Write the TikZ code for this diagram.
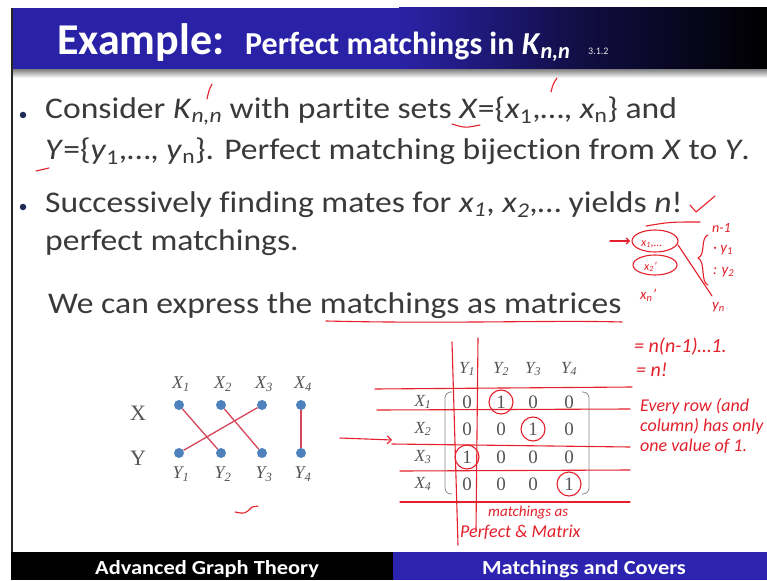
\documentclass[tikz,border=0pt]{standalone}
\usepackage{fontspec}
\setmainfont{Carlito}[Ligatures=NoCommon]
\newfontfamily\bodyfont{Carlito}[FakeStretch=1.12,Ligatures=NoCommon]
\newfontfamily\timesfont{Liberation Serif}
\usetikzlibrary{arrows.meta,positioning,shapes.geometric}
\definecolor{titleblue}{HTML}{2A22A6}
\definecolor{barblue}{HTML}{2C23B0}
\definecolor{textgray}{HTML}{3A3A3A}
\definecolor{bulnavy}{HTML}{1F2A55}
\definecolor{figgray}{HTML}{555555}
\definecolor{dotblue}{HTML}{4F81BD}
\definecolor{edgered}{HTML}{D6455A}
\definecolor{inkred}{HTML}{E3202B}

\tikzset{
  body/.style={anchor=base west,inner sep=0pt,text=textgray,font=\bodyfont\fontsize{30}{36}\selectfont},
  bul/.style={circle,fill=bulnavy,inner sep=0pt,minimum size=6.5pt},
  vtx/.style={circle,fill=dotblue,inner sep=0pt,minimum size=10pt},
  medge/.style={edgered,line width=1.3pt},
  glbl/.style={text=figgray,inner sep=0pt,font=\timesfont\fontsize{18}{20}\selectfont\itshape},
  side/.style={text=figgray,inner sep=0pt,font=\timesfont\fontsize{22}{24}\selectfont},
  entry/.style={text=figgray,inner sep=0pt,font=\timesfont\fontsize{19}{20}\selectfont},
  ink/.style={draw=inkred,line width=1.1pt,line cap=round,line join=round},
  scrawl/.style={text=inkred,inner sep=0pt,anchor=base west,font=\fontsize{18}{20}\selectfont\itshape},
  foot/.style={inner sep=0pt,text=white,font=\bodyfont\fontsize{20}{24}\selectfont\bfseries}
}

\begin{document}
\begin{tikzpicture}[x=1pt,y=-1pt]
\useasboundingbox (0,0) rectangle (767,580);
\fill[white] (0,0) rectangle (767,580);

% title bar
\fill[titleblue] (11,8) rectangle (400,70);
\shade[left color=titleblue,right color=black,middle color=titleblue!40!black] (399,8) rectangle (767,70);
\shade[top color=black!45,bottom color=white] (11,70) rectangle (767,78);
\draw[black!85,line width=2pt] (12,8) -- (12,552);
\node[anchor=base west,inner sep=0pt,text=white,font=\fontsize{44}{50}\selectfont\bfseries] (ttl) at (57,55) {Example:};
\node[anchor=base west,inner sep=0pt,text=white,font=\fontsize{32}{36}\selectfont\bfseries] (ttl2) at (245,55)
  {Perfect matchings in \textit{K}\textsubscript{\textit{n,n}}};
\node[anchor=base west,inner sep=0pt,text=white!80!gray,font=\fontsize{10}{12}\selectfont] (sec) at (588,55) {3.1.2};

% bullets
\node[bul] (b1) at (23,115) {};
\node[body] (l1) at (45,119) {Consider \textit{K}\textsubscript{\textit{n,n}} with partite sets \textit{X}=\{\textit{x}\textsubscript{1},…, \textit{x}\textsubscript{n}\} and};
\node[body] (l2) at (45,160) {\textit{Y}=\{\textit{y}\textsubscript{1},…, \textit{y}\textsubscript{n}\}. Perfect matching bijection from \textit{X} to \textit{Y}.};
\node[bul] (b2) at (23,207) {};
\node[body] (l3) at (45,212) {Successively finding mates for \textit{x}\textsubscript{\textit{1}}, \textit{x}\textsubscript{\textit{2}},… yields \textit{n}!};
\node[body] (l4) at (45,250) {perfect matchings.};
\node[body] (l5) at (48,313) {We can express the matchings as matrices};

% graph
\node[side] (sx) at (138,413) {X};
\node[side] (sy) at (138,458) {Y};
\foreach \i/\xx in {1/179,2/221,3/262,4/301}{
  \node[vtx] (x\i) at (\xx,405) {};
  \node[vtx] (y\i) at (\xx,453) {};
  \node[glbl] (lx\i) at (\xx+2,384) {X\textsubscript{\i}};
  \node[glbl] (ly\i) at (\xx+2,474) {Y\textsubscript{\i}};
}
\draw[medge] (x1) -- (y2);
\draw[medge] (x2) -- (y3);
\draw[medge] (x3) -- (y1);
\draw[medge] (x4) -- (y4);

% matrix
\foreach \c/\xx in {1/467,2/501,3/533,4/569}
  \node[glbl,font=\timesfont\fontsize{17}{20}\selectfont\itshape] (cy\c) at (\xx,369) {Y\textsubscript{\c}};
\foreach \r/\yy/\a/\b/\cc/\d in {1/402/0/1/0/0,2/429/0/0/1/0,3/457/1/0/0/0,4/484/0/0/0/1}{
  \node[glbl,font=\timesfont\fontsize{17}{20}\selectfont\itshape] (rx\r) at (423,\yy) {X\textsubscript{\r}};
  \node[entry] (m\r1) at (467,\yy) {\a};
  \node[entry] (m\r2) at (501,\yy) {\b};
  \node[entry] (m\r3) at (533,\yy) {\cc};
  \node[entry] (m\r4) at (569,\yy) {\d};
}
\draw[figgray!70,line width=0.8pt,rounded corners=6pt] (452,392) -- (445,392) -- (445,494) -- (452,494);
\draw[figgray!70,line width=0.8pt,rounded corners=6pt] (582,392) -- (589,392) -- (589,494) -- (582,494);

% bottom bar
\fill[black] (11,552) rectangle (393,580);
\fill[barblue] (393,552) rectangle (767,580);
\node[foot,anchor=base west] (ft1) at (95,574) {Advanced Graph Theory};
\node[foot,anchor=base] (ft2) at (584,574) {Matchings and Covers};

% handwriting
\draw[ink] (212,84) .. controls (209,90) .. (207,99);
\draw[ink] (557,78) .. controls (553,84) .. (551,92);
\draw[ink] (452,124) .. controls (465,128) .. (480,125);
\draw[ink] (36,171) -- (49,168);
\draw[ink] (690,205) -- (696,212) -- (715,196);
\draw[ink] (326,321) .. controls (450,324) and (550,320) .. (622,322);
\draw[ink] (235,512) .. controls (245,514) .. (252,507) -- (258,506);
% matrix strokes
\draw[ink] (375,389) -- (632,387);
\draw[ink] (377,410) -- (630,409);
\draw[ink,-{Straight Barb[length=4pt]}] (340,438) -- (392,440);
\draw[ink] (392,444) -- (630,447);
\draw[ink] (400,471) -- (630,470);
\draw[ink] (400,502) -- (630,502);
\draw[ink] (452,342) -- (458,545);
\draw[ink] (478,338) -- (476,530);
\draw[ink] (m12) circle[radius=12pt];
\draw[ink] (m23) circle[radius=12pt];
\draw[ink] (m31) circle[radius=12pt];
\draw[ink] (m44) circle[radius=12pt];
\node[scrawl,font=\fontsize{15}{16}\selectfont\itshape] (hw1) at (488,516) {matchings as};
\node[scrawl] (hw2) at (460,537) {Perfect \& Matrix};
% right margin notes
\draw[ink,-{Straight Barb[length=3pt]}] (610,241) -- (630,241);
\draw[ink] (655,241) ellipse[x radius=23pt,y radius=11pt];
\draw[ink] (655,265) ellipse[x radius=22pt,y radius=10pt];
\draw[ink] (646,226) .. controls (670,222) .. (700,222);
\draw[ink] (678,245) -- (712,296);
\node[scrawl,font=\fontsize{12}{12}\selectfont\itshape] (hx1) at (641,246) {x\textsubscript{1},\dots};
\node[scrawl,font=\fontsize{12}{12}\selectfont\itshape] (hx2) at (644,270) {x\textsubscript{2}'};
\node[scrawl,font=\fontsize{15}{16}\selectfont\itshape] (hxn) at (640,299) {x\textsubscript{n}'};
\draw[ink] (708,235) .. controls (700,238) and (706,255) .. (698,258) .. controls (706,262) and (700,282) .. (708,285);
\node[scrawl,font=\fontsize{14}{14}\selectfont\itshape] (hn1) at (712,232) {n-1};
\node[scrawl,font=\fontsize{15}{16}\selectfont\itshape] (hy1) at (713,252) {· y\textsubscript{1}};
\node[scrawl,font=\fontsize{15}{16}\selectfont\itshape] (hy2) at (713,274) {: y\textsubscript{2}};
\node[scrawl,font=\fontsize{15}{16}\selectfont\itshape] (hyn) at (712,309) {y\textsubscript{n}};
\node[scrawl,font=\fontsize{20}{20}\selectfont\itshape] (heq1) at (634,352) {= n(n-1)\dots 1.};
\node[scrawl,font=\fontsize{20}{20}\selectfont\itshape] (heq2) at (636,376) {= n!};
\node[scrawl] (hv1) at (640,411) {Every row (and};
\node[scrawl] (hv2) at (640,431) {column) has only};
\node[scrawl] (hv3) at (640,451) {one value of 1.};
\end{tikzpicture}
\end{document}
